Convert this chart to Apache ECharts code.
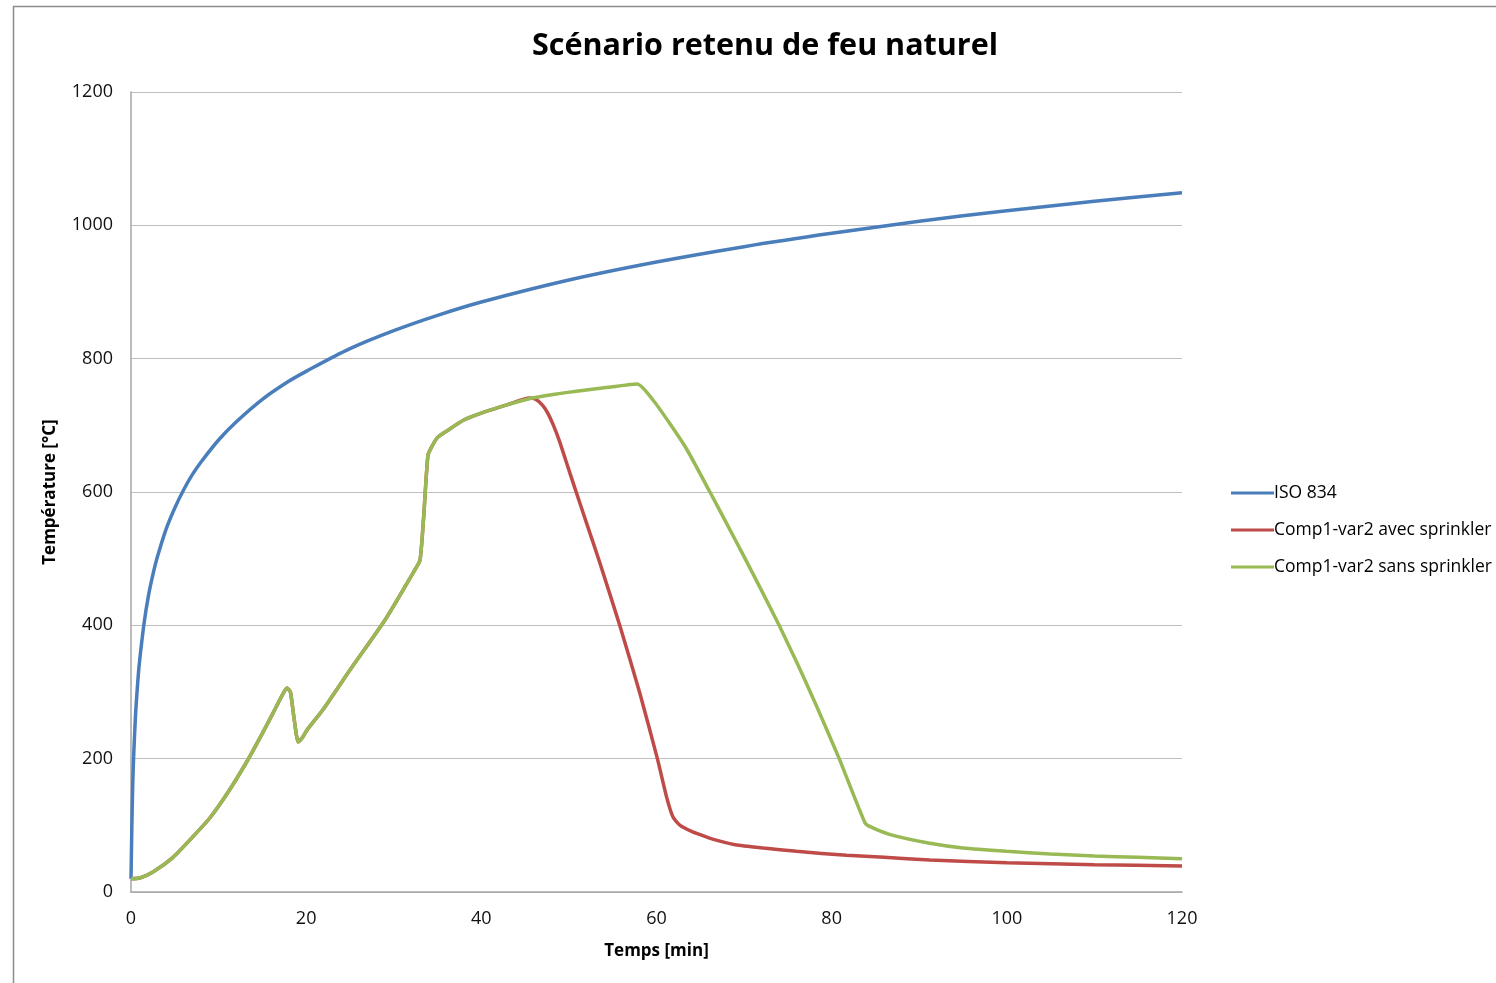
<!DOCTYPE html>
<html><head><meta charset="utf-8">
<script src="https://cdn.jsdelivr.net/npm/echarts@6/dist/echarts.min.js"></script>
<style>html,body{margin:0;padding:0;background:#fff}#c{width:1496px;height:983px}</style>
</head><body><div id="c"></div>
<script>
const isoTime = [0,0.2,0.5,0.8,1,1.5,2,2.5,3,4,5,6,7,8,10,12,15,18,20,25,30,35,40,50,60,70,80,90,100,110,120];
const isoTemp = [20,163,261,320,349,404,445,476,502,544,576,603,626,645,678,705,739,766,781,815,842,865,885,918,945,968,988,1006,1022,1036,1049];

const sansTime = [0,1,2.5,4.8,7,9,11,13.2,15,16.2,17.3,17.8,18.2,18.6,19.1,19.6,20.1,22,25,29,32.4,33,33.4,33.9,34.3,35,36.1,38,39.9,43,45.8,48,51.3,54.5,57.8,59.6,61.5,63.5,66.1,68,70,72,74,76,78,80.8,83.8,84.4,86.7,91.2,95,100,105,110,115,120];
const sansTemp = [20,21,30,52,82,111,148,195,238,268,296,306,300,262,225,232,243,275,333,408,483,498,560,655,667,682,692,708,718,731,741,746,752,757,762,738,703,663,600,553,503,452,400,345,287,202,104,98,86,73,66,61,57,54,52,50];

const avecTime = [0,1,2.5,4.8,7,9,11,13.2,15,16.2,17.3,17.8,18.2,18.6,19.1,19.6,20.1,22,25,29,32.4,33,33.4,33.9,34.3,35,36.1,38,39.9,43,45.5,46.2,47,47.6,48.2,48.9,49.7,50.7,52.1,53.5,55.8,58.1,60.1,61.2,61.9,62.7,64,65,66.5,69,72.2,76,81.7,86,91.2,100,110,120];
const avecTemp = [20,21,30,52,82,111,148,195,238,268,296,306,300,262,225,232,243,275,333,408,483,498,560,655,667,682,692,708,718,731,741,739,730,718,701,677,645,605,550,495,400,298,200,140,112,100,91,86,79,71,66,61,55,52,48,44,41,39];

const xTicks = [0,20,40,60,80,100,120];
const yTicks = [0,200,400,600,800,1000,1200];
const names = ['ISO 834','Comp1-var2 avec sprinkler','Comp1-var2 sans sprinkler'];

const zip = (a,b)=>a.map((v,i)=>[v,b[i]]);
const chart = echarts.init(document.getElementById('c'));
const font = '"Open Sans", "Noto Sans", sans-serif';
chart.setOption({
  animation:false,
  textStyle:{fontFamily:font},
  graphic:[{type:'rect',shape:{x:13.5,y:6.5,width:1600,height:1100},style:{fill:'none',stroke:'#8c8c8c',lineWidth:1.5},silent:true}],
  title:{text:'Scénario retenu de feu naturel',left:760,top:26,textAlign:'center',
    textStyle:{fontSize:30.5,fontWeight:'bold',color:'#000',fontFamily:font}},
  legend:{orient:'vertical',left:1226,top:479,itemGap:19,itemWidth:43,itemHeight:3,
    icon:'rect',textStyle:{fontSize:17.5,color:'#000',padding:[0,0,0,-5]},data:names},
  grid:{left:131,right:314,top:92,bottom:91},
  xAxis:{type:'value',min:xTicks[0],max:xTicks[xTicks.length-1],interval:20,
    name:'Temps [min]',nameLocation:'middle',nameGap:51,
    nameTextStyle:{fontSize:17,fontWeight:'bold',color:'#000'},
    axisLine:{lineStyle:{color:'#a6a6a6',width:1.5}},axisTick:{show:false},
    axisLabel:{fontSize:18,color:'#111',margin:18,formatter:v=>String(v)},splitLine:{show:false}},
  yAxis:{type:'value',min:yTicks[0],max:yTicks[yTicks.length-1],interval:200,
    name:'Température [°C]',nameLocation:'middle',nameGap:72,
    nameTextStyle:{fontSize:17,fontWeight:'bold',color:'#000'},
    axisLine:{show:true,lineStyle:{color:'#a6a6a6',width:1.5}},axisTick:{show:false},
    axisLabel:{fontSize:18,color:'#111',margin:18,formatter:v=>String(v)},
    splitLine:{lineStyle:{color:'#bfbfbf',width:1.2}}},
  series:[
    {name:names[0],type:'line',data:zip(isoTime,isoTemp),showSymbol:false,smooth:0.3,
      lineStyle:{color:'#4a7ebb',width:3.5},itemStyle:{color:'#4a7ebb'}},
    {name:names[1],type:'line',data:zip(avecTime,avecTemp),showSymbol:false,smooth:0.2,
      lineStyle:{color:'#be4b48',width:3.5},itemStyle:{color:'#be4b48'}},
    {name:names[2],type:'line',data:zip(sansTime,sansTemp),showSymbol:false,smooth:0.2,
      lineStyle:{color:'#98b954',width:3.5},itemStyle:{color:'#98b954'}}
  ]
});
</script></body></html>
